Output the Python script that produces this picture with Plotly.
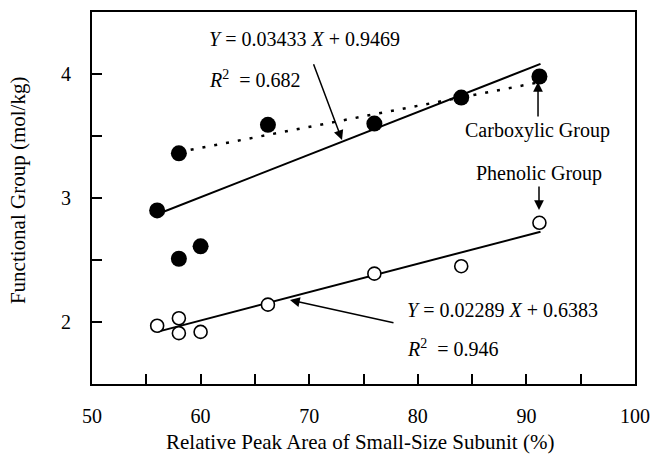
import plotly.graph_objects as go

# Data
carb_x = [56, 58, 66.2, 76, 84, 91.2, 58, 60]
carb_y = [2.90, 3.36, 3.59, 3.60, 3.81, 3.98, 2.51, 2.61]
phen_x = [56, 58, 58, 60, 66.2, 76, 84, 91.2]
phen_y = [1.97, 2.03, 1.91, 1.92, 2.14, 2.39, 2.45, 2.80]
carb_fit = (0.03433, 0.9469)
phen_fit = (0.02289, 0.6383)
fit_x = [56, 91.3]
dot_x = [58, 91.0]
dot_y = [3.37, 3.93]
x_ticks = [50, 55, 60, 65, 70, 75, 80, 85, 90, 95, 100]
x_labels = ['50', '', '60', '', '70', '', '80', '', '90', '', '100']
y_ticks = [1.5, 2, 2.5, 3, 3.5, 4, 4.5]
y_labels = ['', '2', '', '3', '', '4', '']

FONT = "Liberation Serif, Times New Roman, serif"

fig = go.Figure()
fig.add_trace(go.Scatter(x=fit_x, y=[carb_fit[0] * v + carb_fit[1] for v in fit_x],
                         mode='lines', line=dict(color='black', width=2), showlegend=False))
fig.add_trace(go.Scatter(x=fit_x, y=[phen_fit[0] * v + phen_fit[1] for v in fit_x],
                         mode='lines', line=dict(color='black', width=2), showlegend=False))
fig.add_trace(go.Scatter(x=dot_x, y=dot_y, mode='lines',
                         line=dict(color='black', width=2.5, dash='3px,9px'), showlegend=False))
fig.add_trace(go.Scatter(x=carb_x, y=carb_y, mode='markers',
                         marker=dict(symbol='circle', size=16, color='black'), showlegend=False))
fig.add_trace(go.Scatter(x=phen_x, y=phen_y, mode='markers',
                         marker=dict(symbol='circle', size=13, color='white',
                                     line=dict(color='black', width=1.6)), showlegend=False))

tf = dict(family=FONT, size=20, color='black')
ann = []
# Text labels
ann.append(dict(x=60.6, y=4.28, text='<i>Y</i> = 0.03433 <i>X</i> + 0.9469', showarrow=False,
                xanchor='left', yanchor='middle', font=tf))
ann.append(dict(x=60.6, y=3.96, text='<i>R</i><sup>2</sup>  = 0.682', showarrow=False,
                xanchor='left', yanchor='middle', font=tf))
ann.append(dict(x=91.0, y=3.548, text='Carboxylic Group', showarrow=False,
                xanchor='center', yanchor='middle', font=tf))
ann.append(dict(x=91.16, y=3.20, text='Phenolic Group', showarrow=False,
                xanchor='center', yanchor='middle', font=tf))
ann.append(dict(x=78.8, y=2.097, text='<i>Y</i> = 0.02289 <i>X</i> + 0.6383', showarrow=False,
                xanchor='left', yanchor='middle', font=tf))
ann.append(dict(x=78.8, y=1.79, text='<i>R</i><sup>2</sup>  = 0.946', showarrow=False,
                xanchor='left', yanchor='middle', font=tf))
# Axis titles
ann.append(dict(x=0.4936, y=-0.156, xref='paper', yref='paper',
                text='Relative Peak Area of Small-Size Subunit (%)', showarrow=False,
                xanchor='center', yanchor='middle', font=dict(family=FONT, size=21, color='black')))
ann.append(dict(x=-0.136, y=0.519, xref='paper', yref='paper', textangle=-90,
                text='Functional Group (mol/kg)', showarrow=False,
                xanchor='center', yanchor='middle', font=dict(family=FONT, size=21, color='black')))
# Arrows
arrows = [
    ((73.02, 3.468), (70.35, 4.09)),
    ((91.07, 3.935), (91.07, 3.645)),
    ((91.16, 2.903), (91.16, 3.105)),
    ((68.23, 2.177), (77.9, 1.992)),
]
for (hx, hy), (tx, ty) in arrows:
    ann.append(dict(x=hx, y=hy, ax=tx, ay=ty, axref='x', ayref='y', xref='x', yref='y',
                    text='', showarrow=True, arrowhead=2, arrowsize=1.3, arrowwidth=1.5,
                    arrowcolor='black', standoff=0, startstandoff=0))

fig.update_layout(
    width=652, height=460,
    margin=dict(l=92, r=17, t=12, b=76),
    paper_bgcolor='white', plot_bgcolor='white',
    font=dict(family=FONT, size=20, color='black'),
    annotations=ann,
    xaxis=dict(range=[50, 100], tickvals=x_ticks, ticktext=x_labels, ticks='inside',
               ticklen=10, tickwidth=2, tickcolor='black', showgrid=False, zeroline=False,
               showline=True, linecolor='black', linewidth=2, mirror=True, automargin=False,
               ticklabelstandoff=13, tickfont=dict(family=FONT, size=20)),
    yaxis=dict(range=[1.5, 4.5], tickvals=y_ticks, ticktext=y_labels, ticks='inside',
               ticklen=10, tickwidth=2, tickcolor='black', showgrid=False, zeroline=False,
               showline=True, linecolor='black', linewidth=2, mirror=True, automargin=False,
               ticklabelstandoff=15, tickfont=dict(family=FONT, size=20)),
)

fig.write_html("out.html")
